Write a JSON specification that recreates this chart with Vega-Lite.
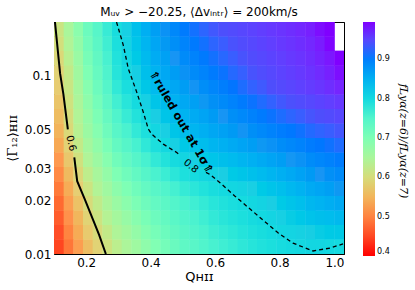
{
"$schema":"https://vega.github.io/schema/vega-lite/v6.json",
"width":290,"height":232,
"autosize":{"type":"none"},
"padding":{"left":54,"top":22,"right":71,"bottom":36},
"background":"white",
"config":{"view":{"stroke":"black","strokeWidth":1},"font":"DejaVu Sans",
"axis":{"labelFont":"DejaVu Sans","labelColor":"black","tickColor":"black","titleColor":"black","titleFontWeight":"normal","grid":false,"domain":false}},
"title":{"text":"Mᵤᵥ > −20.25, ⟨Δvᵢₙₜᵣ⟩ = 200km/s","fontSize":12,"fontWeight":"normal","font":"DejaVu Sans","color":"black","offset":3},
"resolve":{"axis":{"x":"independent","y":"independent"}},
"datasets":{
"cols":[{"k":0,"q":0.1,"q2":0.1315},{"k":1,"q":0.13,"q2":0.1615},{"k":2,"q":0.16,"q2":0.1915},{"k":3,"q":0.19,"q2":0.2215},{"k":4,"q":0.22,"q2":0.2515},{"k":5,"q":0.25,"q2":0.2815},{"k":6,"q":0.28,"q2":0.3115},{"k":7,"q":0.31,"q2":0.3415},{"k":8,"q":0.34,"q2":0.3715},{"k":9,"q":0.37,"q2":0.4015},{"k":10,"q":0.4,"q2":0.4315},{"k":11,"q":0.43,"q2":0.4615},{"k":12,"q":0.46,"q2":0.4915},{"k":13,"q":0.49,"q2":0.5215},{"k":14,"q":0.52,"q2":0.5515},{"k":15,"q":0.55,"q2":0.5815},{"k":16,"q":0.58,"q2":0.6115},{"k":17,"q":0.61,"q2":0.6415},{"k":18,"q":0.64,"q2":0.6715},{"k":19,"q":0.67,"q2":0.7015},{"k":20,"q":0.7,"q2":0.7315},{"k":21,"q":0.73,"q2":0.7615},{"k":22,"q":0.76,"q2":0.7915},{"k":23,"q":0.79,"q2":0.8215},{"k":24,"q":0.82,"q2":0.8515},{"k":25,"q":0.85,"q2":0.8815},{"k":26,"q":0.88,"q2":0.9115},{"k":27,"q":0.91,"q2":0.9415},{"k":28,"q":0.94,"q2":0.9715},{"k":29,"q":0.97,"q2":1.0}],
"rowsdef":[{"j":0,"g":0.01,"g2":0.01212},{"j":1,"g":0.012059,"g2":0.014615},{"j":2,"g":0.014542,"g2":0.017624},{"j":3,"g":0.017536,"g2":0.021253},{"j":4,"g":0.021147,"g2":0.02563},{"j":5,"g":0.025502,"g2":0.030906},{"j":6,"g":0.030752,"g2":0.03727},{"j":7,"g":0.037084,"g2":0.044945},{"j":8,"g":0.044721,"g2":0.0542},{"j":9,"g":0.05393,"g2":0.06536},{"j":10,"g":0.065034,"g2":0.078816},{"j":11,"g":0.078424,"g2":0.095047},{"j":12,"g":0.094574,"g2":0.11462},{"j":13,"g":0.11405,"g2":0.13822},{"j":14,"g":0.13753,"g2":0.16668},{"j":15,"g":0.16585,"g2":0.2}],
"cells":[
{"k":0,"j":0,"v":0.446},{"k":0,"j":1,"v":0.457},{"k":0,"j":2,"v":0.468},{"k":0,"j":3,"v":0.479},{"k":0,"j":4,"v":0.492},{"k":0,"j":5,"v":0.507},{"k":0,"j":6,"v":0.522},{"k":0,"j":7,"v":0.537},{"k":0,"j":8,"v":0.549},{"k":0,"j":9,"v":0.558},{"k":0,"j":10,"v":0.567},{"k":0,"j":11,"v":0.576},{"k":0,"j":12,"v":0.585},{"k":0,"j":13,"v":0.594},{"k":0,"j":14,"v":0.604},{"k":0,"j":15,"v":0.613},
{"k":1,"j":0,"v":0.489},{"k":1,"j":1,"v":0.501},{"k":1,"j":2,"v":0.514},{"k":1,"j":3,"v":0.526},{"k":1,"j":4,"v":0.54},{"k":1,"j":5,"v":0.555},{"k":1,"j":6,"v":0.57},{"k":1,"j":7,"v":0.585},{"k":1,"j":8,"v":0.595},{"k":1,"j":9,"v":0.602},{"k":1,"j":10,"v":0.609},{"k":1,"j":11,"v":0.616},{"k":1,"j":12,"v":0.623},{"k":1,"j":13,"v":0.632},{"k":1,"j":14,"v":0.641},{"k":1,"j":15,"v":0.65},
{"k":2,"j":0,"v":0.526},{"k":2,"j":1,"v":0.539},{"k":2,"j":2,"v":0.551},{"k":2,"j":3,"v":0.564},{"k":2,"j":4,"v":0.578},{"k":2,"j":5,"v":0.593},{"k":2,"j":6,"v":0.608},{"k":2,"j":7,"v":0.623},{"k":2,"j":8,"v":0.634},{"k":2,"j":9,"v":0.641},{"k":2,"j":10,"v":0.648},{"k":2,"j":11,"v":0.655},{"k":2,"j":12,"v":0.662},{"k":2,"j":13,"v":0.67},{"k":2,"j":14,"v":0.678},{"k":2,"j":15,"v":0.686},
{"k":3,"j":0,"v":0.56},{"k":3,"j":1,"v":0.573},{"k":3,"j":2,"v":0.586},{"k":3,"j":3,"v":0.599},{"k":3,"j":4,"v":0.612},{"k":3,"j":5,"v":0.627},{"k":3,"j":6,"v":0.642},{"k":3,"j":7,"v":0.657},{"k":3,"j":8,"v":0.668},{"k":3,"j":9,"v":0.676},{"k":3,"j":10,"v":0.683},{"k":3,"j":11,"v":0.691},{"k":3,"j":12,"v":0.699},{"k":3,"j":13,"v":0.706},{"k":3,"j":14,"v":0.713},{"k":3,"j":15,"v":0.72},
{"k":4,"j":0,"v":0.586},{"k":4,"j":1,"v":0.599},{"k":4,"j":2,"v":0.612},{"k":4,"j":3,"v":0.625},{"k":4,"j":4,"v":0.639},{"k":4,"j":5,"v":0.653},{"k":4,"j":6,"v":0.667},{"k":4,"j":7,"v":0.681},{"k":4,"j":8,"v":0.692},{"k":4,"j":9,"v":0.701},{"k":4,"j":10,"v":0.71},{"k":4,"j":11,"v":0.719},{"k":4,"j":12,"v":0.726},{"k":4,"j":13,"v":0.732},{"k":4,"j":14,"v":0.739},{"k":4,"j":15,"v":0.745},
{"k":5,"j":0,"v":0.61},{"k":5,"j":1,"v":0.623},{"k":5,"j":2,"v":0.636},{"k":5,"j":3,"v":0.649},{"k":5,"j":4,"v":0.663},{"k":5,"j":5,"v":0.677},{"k":5,"j":6,"v":0.691},{"k":5,"j":7,"v":0.705},{"k":5,"j":8,"v":0.717},{"k":5,"j":9,"v":0.727},{"k":5,"j":10,"v":0.737},{"k":5,"j":11,"v":0.747},{"k":5,"j":12,"v":0.755},{"k":5,"j":13,"v":0.76},{"k":5,"j":14,"v":0.765},{"k":5,"j":15,"v":0.77},
{"k":6,"j":0,"v":0.629},{"k":6,"j":1,"v":0.643},{"k":6,"j":2,"v":0.656},{"k":6,"j":3,"v":0.67},{"k":6,"j":4,"v":0.684},{"k":6,"j":5,"v":0.699},{"k":6,"j":6,"v":0.714},{"k":6,"j":7,"v":0.729},{"k":6,"j":8,"v":0.742},{"k":6,"j":9,"v":0.753},{"k":6,"j":10,"v":0.764},{"k":6,"j":11,"v":0.775},{"k":6,"j":12,"v":0.782},{"k":6,"j":13,"v":0.786},{"k":6,"j":14,"v":0.79},{"k":6,"j":15,"v":0.794},
{"k":7,"j":0,"v":0.647},{"k":7,"j":1,"v":0.66},{"k":7,"j":2,"v":0.673},{"k":7,"j":3,"v":0.686},{"k":7,"j":4,"v":0.7},{"k":7,"j":5,"v":0.716},{"k":7,"j":6,"v":0.731},{"k":7,"j":7,"v":0.746},{"k":7,"j":8,"v":0.759},{"k":7,"j":9,"v":0.77},{"k":7,"j":10,"v":0.781},{"k":7,"j":11,"v":0.792},{"k":7,"j":12,"v":0.8},{"k":7,"j":13,"v":0.805},{"k":7,"j":14,"v":0.809},{"k":7,"j":15,"v":0.814},
{"k":8,"j":0,"v":0.664},{"k":8,"j":1,"v":0.677},{"k":8,"j":2,"v":0.689},{"k":8,"j":3,"v":0.702},{"k":8,"j":4,"v":0.716},{"k":8,"j":5,"v":0.731},{"k":8,"j":6,"v":0.746},{"k":8,"j":7,"v":0.761},{"k":8,"j":8,"v":0.774},{"k":8,"j":9,"v":0.785},{"k":8,"j":10,"v":0.797},{"k":8,"j":11,"v":0.808},{"k":8,"j":12,"v":0.817},{"k":8,"j":13,"v":0.822},{"k":8,"j":14,"v":0.828},{"k":8,"j":15,"v":0.833},
{"k":9,"j":0,"v":0.682},{"k":9,"j":1,"v":0.694},{"k":9,"j":2,"v":0.705},{"k":9,"j":3,"v":0.717},{"k":9,"j":4,"v":0.73},{"k":9,"j":5,"v":0.746},{"k":9,"j":6,"v":0.761},{"k":9,"j":7,"v":0.776},{"k":9,"j":8,"v":0.789},{"k":9,"j":9,"v":0.801},{"k":9,"j":10,"v":0.813},{"k":9,"j":11,"v":0.825},{"k":9,"j":12,"v":0.834},{"k":9,"j":13,"v":0.84},{"k":9,"j":14,"v":0.846},{"k":9,"j":15,"v":0.852},
{"k":10,"j":0,"v":0.697},{"k":10,"j":1,"v":0.708},{"k":10,"j":2,"v":0.719},{"k":10,"j":3,"v":0.73},{"k":10,"j":4,"v":0.743},{"k":10,"j":5,"v":0.759},{"k":10,"j":6,"v":0.774},{"k":10,"j":7,"v":0.79},{"k":10,"j":8,"v":0.804},{"k":10,"j":9,"v":0.816},{"k":10,"j":10,"v":0.827},{"k":10,"j":11,"v":0.839},{"k":10,"j":12,"v":0.848},{"k":10,"j":13,"v":0.855},{"k":10,"j":14,"v":0.861},{"k":10,"j":15,"v":0.868},
{"k":11,"j":0,"v":0.71},{"k":11,"j":1,"v":0.72},{"k":11,"j":2,"v":0.729},{"k":11,"j":3,"v":0.739},{"k":11,"j":4,"v":0.752},{"k":11,"j":5,"v":0.768},{"k":11,"j":6,"v":0.785},{"k":11,"j":7,"v":0.801},{"k":11,"j":8,"v":0.815},{"k":11,"j":9,"v":0.827},{"k":11,"j":10,"v":0.838},{"k":11,"j":11,"v":0.85},{"k":11,"j":12,"v":0.859},{"k":11,"j":13,"v":0.866},{"k":11,"j":14,"v":0.873},{"k":11,"j":15,"v":0.88},
{"k":12,"j":0,"v":0.723},{"k":12,"j":1,"v":0.732},{"k":12,"j":2,"v":0.741},{"k":12,"j":3,"v":0.75},{"k":12,"j":4,"v":0.762},{"k":12,"j":5,"v":0.779},{"k":12,"j":6,"v":0.796},{"k":12,"j":7,"v":0.813},{"k":12,"j":8,"v":0.827},{"k":12,"j":9,"v":0.838},{"k":12,"j":10,"v":0.849},{"k":12,"j":11,"v":0.86},{"k":12,"j":12,"v":0.87},{"k":12,"j":13,"v":0.877},{"k":12,"j":14,"v":0.884},{"k":12,"j":15,"v":0.891},
{"k":13,"j":0,"v":0.735},{"k":13,"j":1,"v":0.743},{"k":13,"j":2,"v":0.751},{"k":13,"j":3,"v":0.759},{"k":13,"j":4,"v":0.772},{"k":13,"j":5,"v":0.789},{"k":13,"j":6,"v":0.806},{"k":13,"j":7,"v":0.823},{"k":13,"j":8,"v":0.837},{"k":13,"j":9,"v":0.848},{"k":13,"j":10,"v":0.859},{"k":13,"j":11,"v":0.87},{"k":13,"j":12,"v":0.88},{"k":13,"j":13,"v":0.888},{"k":13,"j":14,"v":0.895},{"k":13,"j":15,"v":0.903},
{"k":14,"j":0,"v":0.743},{"k":14,"j":1,"v":0.751},{"k":14,"j":2,"v":0.758},{"k":14,"j":3,"v":0.766},{"k":14,"j":4,"v":0.779},{"k":14,"j":5,"v":0.796},{"k":14,"j":6,"v":0.813},{"k":14,"j":7,"v":0.83},{"k":14,"j":8,"v":0.845},{"k":14,"j":9,"v":0.856},{"k":14,"j":10,"v":0.867},{"k":14,"j":11,"v":0.878},{"k":14,"j":12,"v":0.888},{"k":14,"j":13,"v":0.896},{"k":14,"j":14,"v":0.904},{"k":14,"j":15,"v":0.912},
{"k":15,"j":0,"v":0.752},{"k":15,"j":1,"v":0.759},{"k":15,"j":2,"v":0.766},{"k":15,"j":3,"v":0.773},{"k":15,"j":4,"v":0.786},{"k":15,"j":5,"v":0.803},{"k":15,"j":6,"v":0.82},{"k":15,"j":7,"v":0.837},{"k":15,"j":8,"v":0.852},{"k":15,"j":9,"v":0.863},{"k":15,"j":10,"v":0.874},{"k":15,"j":11,"v":0.885},{"k":15,"j":12,"v":0.895},{"k":15,"j":13,"v":0.904},{"k":15,"j":14,"v":0.912},{"k":15,"j":15,"v":0.921},
{"k":16,"j":0,"v":0.76},{"k":16,"j":1,"v":0.767},{"k":16,"j":2,"v":0.774},{"k":16,"j":3,"v":0.781},{"k":16,"j":4,"v":0.793},{"k":16,"j":5,"v":0.81},{"k":16,"j":6,"v":0.828},{"k":16,"j":7,"v":0.845},{"k":16,"j":8,"v":0.86},{"k":16,"j":9,"v":0.871},{"k":16,"j":10,"v":0.882},{"k":16,"j":11,"v":0.893},{"k":16,"j":12,"v":0.903},{"k":16,"j":13,"v":0.912},{"k":16,"j":14,"v":0.921},{"k":16,"j":15,"v":0.93},
{"k":17,"j":0,"v":0.766},{"k":17,"j":1,"v":0.773},{"k":17,"j":2,"v":0.78},{"k":17,"j":3,"v":0.787},{"k":17,"j":4,"v":0.799},{"k":17,"j":5,"v":0.816},{"k":17,"j":6,"v":0.834},{"k":17,"j":7,"v":0.851},{"k":17,"j":8,"v":0.866},{"k":17,"j":9,"v":0.877},{"k":17,"j":10,"v":0.889},{"k":17,"j":11,"v":0.9},{"k":17,"j":12,"v":0.91},{"k":17,"j":13,"v":0.919},{"k":17,"j":14,"v":0.927},{"k":17,"j":15,"v":0.936},
{"k":18,"j":0,"v":0.771},{"k":18,"j":1,"v":0.778},{"k":18,"j":2,"v":0.785},{"k":18,"j":3,"v":0.792},{"k":18,"j":4,"v":0.804},{"k":18,"j":5,"v":0.822},{"k":18,"j":6,"v":0.839},{"k":18,"j":7,"v":0.857},{"k":18,"j":8,"v":0.872},{"k":18,"j":9,"v":0.884},{"k":18,"j":10,"v":0.896},{"k":18,"j":11,"v":0.908},{"k":18,"j":12,"v":0.918},{"k":18,"j":13,"v":0.926},{"k":18,"j":14,"v":0.934},{"k":18,"j":15,"v":0.942},
{"k":19,"j":0,"v":0.777},{"k":19,"j":1,"v":0.784},{"k":19,"j":2,"v":0.79},{"k":19,"j":3,"v":0.797},{"k":19,"j":4,"v":0.809},{"k":19,"j":5,"v":0.827},{"k":19,"j":6,"v":0.845},{"k":19,"j":7,"v":0.863},{"k":19,"j":8,"v":0.878},{"k":19,"j":9,"v":0.89},{"k":19,"j":10,"v":0.903},{"k":19,"j":11,"v":0.915},{"k":19,"j":12,"v":0.925},{"k":19,"j":13,"v":0.933},{"k":19,"j":14,"v":0.94},{"k":19,"j":15,"v":0.948},
{"k":20,"j":0,"v":0.782},{"k":20,"j":1,"v":0.789},{"k":20,"j":2,"v":0.796},{"k":20,"j":3,"v":0.803},{"k":20,"j":4,"v":0.815},{"k":20,"j":5,"v":0.833},{"k":20,"j":6,"v":0.851},{"k":20,"j":7,"v":0.869},{"k":20,"j":8,"v":0.884},{"k":20,"j":9,"v":0.897},{"k":20,"j":10,"v":0.91},{"k":20,"j":11,"v":0.923},{"k":20,"j":12,"v":0.933},{"k":20,"j":13,"v":0.94},{"k":20,"j":14,"v":0.947},{"k":20,"j":15,"v":0.954},
{"k":21,"j":0,"v":0.787},{"k":21,"j":1,"v":0.794},{"k":21,"j":2,"v":0.802},{"k":21,"j":3,"v":0.809},{"k":21,"j":4,"v":0.822},{"k":21,"j":5,"v":0.839},{"k":21,"j":6,"v":0.857},{"k":21,"j":7,"v":0.874},{"k":21,"j":8,"v":0.89},{"k":21,"j":9,"v":0.903},{"k":21,"j":10,"v":0.916},{"k":21,"j":11,"v":0.929},{"k":21,"j":12,"v":0.939},{"k":21,"j":13,"v":0.946},{"k":21,"j":14,"v":0.953},{"k":21,"j":15,"v":0.96},
{"k":22,"j":0,"v":0.791},{"k":22,"j":1,"v":0.799},{"k":22,"j":2,"v":0.808},{"k":22,"j":3,"v":0.816},{"k":22,"j":4,"v":0.829},{"k":22,"j":5,"v":0.846},{"k":22,"j":6,"v":0.863},{"k":22,"j":7,"v":0.88},{"k":22,"j":8,"v":0.896},{"k":22,"j":9,"v":0.91},{"k":22,"j":10,"v":0.923},{"k":22,"j":11,"v":0.937},{"k":22,"j":12,"v":0.947},{"k":22,"j":13,"v":0.953},{"k":22,"j":14,"v":0.959},{"k":22,"j":15,"v":0.965},
{"k":23,"j":0,"v":0.795},{"k":23,"j":1,"v":0.804},{"k":23,"j":2,"v":0.813},{"k":23,"j":3,"v":0.822},{"k":23,"j":4,"v":0.835},{"k":23,"j":5,"v":0.852},{"k":23,"j":6,"v":0.869},{"k":23,"j":7,"v":0.886},{"k":23,"j":8,"v":0.901},{"k":23,"j":9,"v":0.915},{"k":23,"j":10,"v":0.93},{"k":23,"j":11,"v":0.944},{"k":23,"j":12,"v":0.954},{"k":23,"j":13,"v":0.959},{"k":23,"j":14,"v":0.965},{"k":23,"j":15,"v":0.97},
{"k":24,"j":0,"v":0.798},{"k":24,"j":1,"v":0.808},{"k":24,"j":2,"v":0.819},{"k":24,"j":3,"v":0.829},{"k":24,"j":4,"v":0.842},{"k":24,"j":5,"v":0.858},{"k":24,"j":6,"v":0.875},{"k":24,"j":7,"v":0.891},{"k":24,"j":8,"v":0.906},{"k":24,"j":9,"v":0.921},{"k":24,"j":10,"v":0.935},{"k":24,"j":11,"v":0.95},{"k":24,"j":12,"v":0.96},{"k":24,"j":13,"v":0.965},{"k":24,"j":14,"v":0.97},{"k":24,"j":15,"v":0.975},
{"k":25,"j":0,"v":0.801},{"k":25,"j":1,"v":0.812},{"k":25,"j":2,"v":0.824},{"k":25,"j":3,"v":0.835},{"k":25,"j":4,"v":0.849},{"k":25,"j":5,"v":0.865},{"k":25,"j":6,"v":0.88},{"k":25,"j":7,"v":0.896},{"k":25,"j":8,"v":0.911},{"k":25,"j":9,"v":0.926},{"k":25,"j":10,"v":0.941},{"k":25,"j":11,"v":0.956},{"k":25,"j":12,"v":0.965},{"k":25,"j":13,"v":0.97},{"k":25,"j":14,"v":0.975},{"k":25,"j":15,"v":0.98},
{"k":26,"j":0,"v":0.804},{"k":26,"j":1,"v":0.817},{"k":26,"j":2,"v":0.83},{"k":26,"j":3,"v":0.843},{"k":26,"j":4,"v":0.857},{"k":26,"j":5,"v":0.872},{"k":26,"j":6,"v":0.887},{"k":26,"j":7,"v":0.902},{"k":26,"j":8,"v":0.917},{"k":26,"j":9,"v":0.932},{"k":26,"j":10,"v":0.947},{"k":26,"j":11,"v":0.962},{"k":26,"j":12,"v":0.971},{"k":26,"j":13,"v":0.976},{"k":26,"j":14,"v":0.98},{"k":26,"j":15,"v":0.985},
{"k":27,"j":0,"v":0.805},{"k":27,"j":1,"v":0.819},{"k":27,"j":2,"v":0.834},{"k":27,"j":3,"v":0.848},{"k":27,"j":4,"v":0.862},{"k":27,"j":5,"v":0.877},{"k":27,"j":6,"v":0.892},{"k":27,"j":7,"v":0.907},{"k":27,"j":8,"v":0.922},{"k":27,"j":9,"v":0.937},{"k":27,"j":10,"v":0.953},{"k":27,"j":11,"v":0.968},{"k":27,"j":12,"v":0.978},{"k":27,"j":13,"v":0.983},{"k":27,"j":14,"v":0.987},{"k":27,"j":15,"v":0.992},
{"k":28,"j":0,"v":0.801},{"k":28,"j":1,"v":0.821},{"k":28,"j":2,"v":0.837},{"k":28,"j":3,"v":0.853},{"k":28,"j":4,"v":0.868},{"k":28,"j":5,"v":0.882},{"k":28,"j":6,"v":0.897},{"k":28,"j":7,"v":0.911},{"k":28,"j":8,"v":0.926},{"k":28,"j":9,"v":0.942},{"k":28,"j":10,"v":0.959},{"k":28,"j":11,"v":0.975},{"k":28,"j":12,"v":0.985},{"k":28,"j":13,"v":0.989},{"k":28,"j":14,"v":0.994},{"k":28,"j":15,"v":0.998},
{"k":29,"j":0,"v":0.799},{"k":29,"j":1,"v":0.823},{"k":29,"j":2,"v":0.841},{"k":29,"j":3,"v":0.858},{"k":29,"j":4,"v":0.874},{"k":29,"j":5,"v":0.888},{"k":29,"j":6,"v":0.902},{"k":29,"j":7,"v":0.916},{"k":29,"j":8,"v":0.931},{"k":29,"j":9,"v":0.948},{"k":29,"j":10,"v":0.965},{"k":29,"j":11,"v":0.982},{"k":29,"j":12,"v":0.992},{"k":29,"j":13,"v":0.996}
],
"c06":[{"s":"a","o":0,"q":0.103,"g":0.2},{"s":"a","o":1,"q":0.119,"g":0.1026},{"s":"a","o":2,"q":0.129,"g":0.079},{"s":"a","o":3,"q":0.143,"g":0.05},
{"s":"b","o":4,"q":0.163,"g":0.0348},{"s":"b","o":5,"q":0.172,"g":0.0256},{"s":"b","o":6,"q":0.196,"g":0.0202},{"s":"b","o":7,"q":0.24,"g":0.0128},{"s":"b","o":8,"q":0.261,"g":0.01}],
"c08":[{"s":"a","o":0,"q":0.294,"g":0.2},{"s":"a","o":1,"q":0.315,"g":0.1484},{"s":"a","o":2,"q":0.3306,"g":0.1095},{"s":"a","o":3,"q":0.3567,"g":0.0809},{"s":"a","o":4,"q":0.3772,"g":0.0624},{"s":"a","o":5,"q":0.3927,"g":0.0502},{"s":"a","o":6,"q":0.4032,"g":0.047},{"s":"a","o":7,"q":0.4392,"g":0.0413},{"s":"a","o":8,"q":0.4808,"g":0.0371},{"s":"a","o":9,"q":0.491,"g":0.0358},
{"s":"b","o":10,"q":0.5717,"g":0.0287},{"s":"b","o":11,"q":0.5842,"g":0.0279},{"s":"b","o":12,"q":0.6152,"g":0.0251},{"s":"b","o":13,"q":0.6618,"g":0.0211},{"s":"b","o":14,"q":0.796,"g":0.0131},{"s":"b","o":15,"q":0.842,"g":0.0115},{"s":"b","o":16,"q":0.904,"g":0.0104},{"s":"b","o":17,"q":0.957,"g":0.0108},{"s":"b","o":18,"q":0.997,"g":0.0114}],
"lab06":[{"q":0.1528,"g":0.0418,"t":"0.6"}],
"lab08":[{"q":0.525,"g":0.0311,"t":"0.8"}],
"ruled":[{"q":0.4935,"g":0.0547,"t":"⇑ruled out at 1σ⇑"}],
"cbtitle":[{"q":1.183,"g":0.043,"t":"fLyα(z=6)/fLyα(z=7)"}]
},
"layer":[
{"data":{"name":"cells"},
 "transform":[{"lookup":"k","from":{"data":{"name":"cols"},"key":"k","fields":["q","q2"]}},{"lookup":"j","from":{"data":{"name":"rowsdef"},"key":"j","fields":["g","g2"]}}],
 "mark":{"type":"rect","clip":true},
 "encoding":{
  "x":{"field":"q","type":"quantitative","scale":{"domain":[0.1,1.0],"nice":false,"zero":false},
       "axis":{"orient":"bottom","values":[0.2,0.4,0.6,0.8,1.0],"format":".1f","title":"Qʜɪɪ","titleFontSize":13,"labelFontSize":12,"tickSize":-4,"labelPadding":7,"titlePadding":2}},
  "x2":{"field":"q2"},
  "y":{"field":"g","type":"quantitative","scale":{"type":"log","domain":[0.01,0.2],"nice":false},
       "axis":{"orient":"left","values":[0.01,0.02,0.03,0.05,0.1],"format":"~g","title":"⟨Γ₁₂⟩ʜɪɪ","titleFont":"DejaVu Serif","titleFontSize":13,"labelFontSize":12,"tickSize":-4,"labelPadding":7,"titlePadding":5}},
  "y2":{"field":"g2"},
  "color":{"field":"v","type":"quantitative",
    "scale":{"domain":[0.4,0.4595,0.519,0.5785,0.638,0.6975,0.757,0.8165,0.876,0.9355,0.995],"range":["#ff0000","#ff4f28","#ff964f","#e6ce74","#b3f396","#80ffb4","#4df3ce","#1acee3","#1a96f3","#4d4ffc","#8000ff"],"clamp":true},
    "legend":{"type":"gradient","title":null,"orient":"right","offset":18,"direction":"vertical","gradientLength":234,"gradientThickness":12,"gradientStrokeWidth":0,"values":[0.4,0.5,0.6,0.7,0.8,0.9],"format":".1f","labelFontSize":8,"labelOffset":2,"labelColor":"black","labelOverlap":false,"padding":0}}
 }},
{"data":{"name":"c06"},
 "mark":{"type":"line","color":"black","strokeWidth":2,"clip":true},
 "encoding":{
  "x":{"field":"q","type":"quantitative","scale":{"domain":[0.1,1.0],"nice":false,"zero":false},"axis":{"orient":"top","values":[0.2,0.4,0.6,0.8,1.0],"labels":false,"tickSize":-4,"title":null}},
  "y":{"field":"g","type":"quantitative","scale":{"type":"log","domain":[0.01,0.2],"nice":false},"axis":{"orient":"right","values":[0.01,0.02,0.03,0.05,0.1],"labels":false,"tickSize":-4,"title":null}},
  "detail":{"field":"s"},"order":{"field":"o"}}},
{"data":{"name":"c08"},
 "mark":{"type":"line","color":"black","strokeWidth":1.3,"strokeDash":[4,3],"clip":true},
 "encoding":{
  "x":{"field":"q","type":"quantitative","scale":{"domain":[0.1,1.0],"nice":false,"zero":false},"axis":null},
  "y":{"field":"g","type":"quantitative","scale":{"type":"log","domain":[0.01,0.2],"nice":false},"axis":null},
  "detail":{"field":"s"},"order":{"field":"o"}}},
{"data":{"name":"lab06"},
 "mark":{"type":"text","angle":77,"fontSize":10,"color":"black","align":"center","baseline":"middle"},
 "encoding":{"x":{"field":"q","type":"quantitative","axis":null},"y":{"field":"g","type":"quantitative","axis":null},"text":{"field":"t"}}},
{"data":{"name":"lab08"},
 "mark":{"type":"text","angle":39,"fontSize":10,"color":"black","align":"center","baseline":"middle"},
 "encoding":{"x":{"field":"q","type":"quantitative","axis":null},"y":{"field":"g","type":"quantitative","axis":null},"text":{"field":"t"}}},
{"data":{"name":"ruled"},
 "mark":{"type":"text","angle":60,"fontSize":11.5,"fontWeight":"bold","color":"black","align":"center","baseline":"middle"},
 "encoding":{"x":{"field":"q","type":"quantitative","axis":null},"y":{"field":"g","type":"quantitative","axis":null},"text":{"field":"t"}}},
{"data":{"name":"cbtitle"},
 "mark":{"type":"text","angle":90,"fontSize":11,"font":"DejaVu Serif","fontStyle":"italic","color":"black","align":"center","baseline":"middle","clip":false},
 "encoding":{"x":{"field":"q","type":"quantitative","axis":null},"y":{"field":"g","type":"quantitative","axis":null},"text":{"field":"t"}}}
]
}
